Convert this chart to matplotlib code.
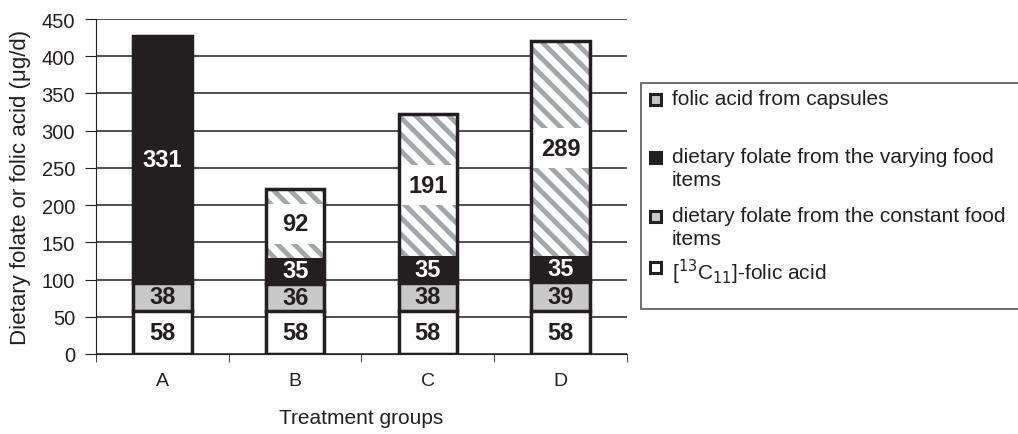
import matplotlib.pyplot as plt
from matplotlib.patches import Rectangle
import numpy as np

plt.rcParams['font.family'] = ['Liberation Sans', 'DejaVu Sans']
plt.rcParams['hatch.linewidth'] = 3.5
plt.rcParams['hatch.color'] = "#a3a7ab"

grupos = ["A", "B", "C", "D"]
acido_13c = [58, 58, 58, 58]
constante = [38, 36, 38, 39]
variable = [331, 35, 35, 35]
capsulas = [0, 92, 191, 289]

etiquetas = ["folic acid from capsules",
             "dietary folate from the varying food\nitems",
             "dietary folate from the constant food\nitems",
             r"[$^{13}$C$_{11}$]-folic acid"]
colores_ley = ["#c4c4c4", "#231f20", "#c8c8c8", "white"]

OSCURO = "#231f20"

fig = plt.figure(figsize=(10.18, 4.35), dpi=100)
ax = fig.add_axes([96 / 1018, 80 / 435, 531 / 1018, 335 / 435])

x = np.arange(len(grupos))
w = 0.44
abajo = np.zeros(len(grupos))
series = [(acido_13c, "white", "", OSCURO),
          (constante, "#c8c8c8", "", OSCURO),
          (variable, OSCURO, "", "white"),
          (capsulas, "white", "\\\\", OSCURO)]
for vals, color, hatch, tcol in series:
    vals = np.array(vals)
    ax.bar(x, vals, w, bottom=abajo, color=color, hatch=hatch,
           edgecolor="#a3a7ab" if hatch else OSCURO, linewidth=0 if hatch else 1.5, zorder=3)
    for i, v in enumerate(vals):
        if v == 0:
            continue
        yc = abajo[i] + v / 2
        if hatch:
            # franja blanca detras del numero
            ax.add_patch(Rectangle((x[i] - w / 2, yc - 27), w, 54, facecolor="white",
                                   edgecolor="none", zorder=3.5))
        ax.text(x[i], yc, str(v), ha="center", va="center",
                fontsize=17, fontweight="bold", color=tcol, zorder=5)
    abajo += vals

# contorno de cada barra completa
for i in range(len(grupos)):
    ax.bar(x[i], abajo[i], w, fill=False, edgecolor=OSCURO, linewidth=2.5, zorder=4)
    for lim in np.cumsum([acido_13c[i], constante[i], variable[i]])[:-1]:
        ax.plot([x[i] - w / 2, x[i] + w / 2], [lim, lim], color=OSCURO, lw=2.5, zorder=4)

ax.set_xlim(-0.5, 3.5)
ax.set_ylim(0, 450)
ax.set_yticks(range(0, 451, 50))
ax.yaxis.grid(True, color=OSCURO, lw=1.1)
ax.set_axisbelow(True)
ax.set_xticks(x)
ax.set_xticklabels(grupos)
ax.set_xticks(np.arange(-0.5, 3.6, 1), minor=True)
ax.tick_params(axis="x", which="major", length=0, pad=13, labelsize=14, colors=OSCURO)
ax.tick_params(axis="x", which="minor", length=6, color=OSCURO)
ax.tick_params(axis="y", length=8, pad=7, labelsize=14.5, color=OSCURO, labelcolor=OSCURO)
for lado in ["top", "right"]:
    ax.spines[lado].set_visible(False)
for lado in ["left", "bottom"]:
    ax.spines[lado].set_color(OSCURO)
ax.set_ylabel("Dietary folate or folic acid (\u03bcg/d)", fontsize=16, color=OSCURO, labelpad=8)
ax.set_xlabel("Treatment groups", fontsize=15, labelpad=14, color=OSCURO)

# leyenda dibujada a mano: marco y entradas
fig.add_artist(Rectangle((641 / 1018, 1 - 310 / 435), 0.4, 226 / 435, transform=fig.transFigure,
                         facecolor="white", edgecolor="#555555", lw=1.2))
filas = [100, 158, 217, 268]
for yy, et, col in zip(filas, etiquetas, colores_ley):
    fig.add_artist(Rectangle((650 / 1018, 1 - (yy + 6) / 435), 11 / 1018, 11 / 435,
                             transform=fig.transFigure, facecolor=col, edgecolor=OSCURO, lw=2.2))
    fig.text(672 / 1018, 1 - (yy - 10) / 435, et, fontsize=15, color=OSCURO,
             va="top", ha="left", linespacing=1.25)

fig.savefig("out.png", dpi=100)
